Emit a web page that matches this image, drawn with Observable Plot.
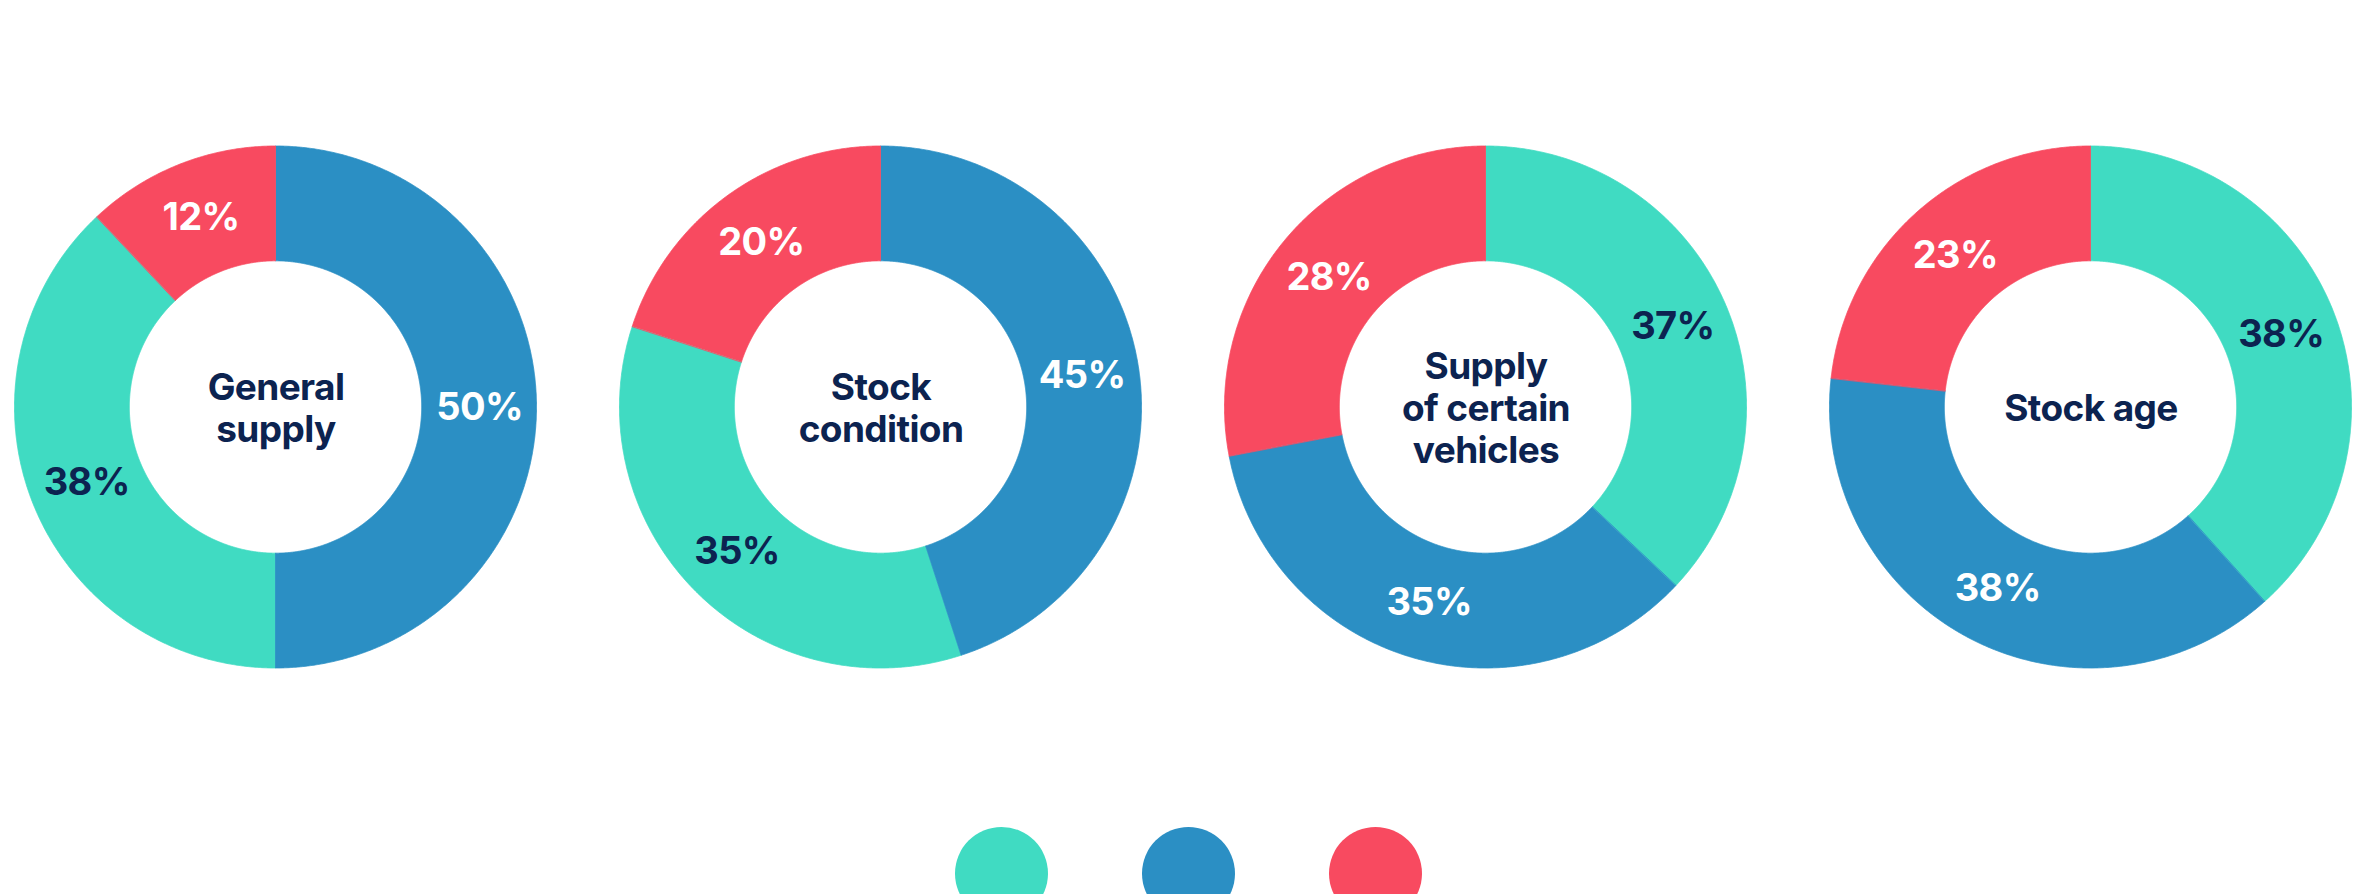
<!DOCTYPE html>
<html>
<head>
<meta charset="utf-8">
<script src="https://cdn.jsdelivr.net/npm/d3@7"></script>
<script src="https://cdn.jsdelivr.net/npm/@observablehq/plot@0.6"></script>
<style>
  html, body { margin: 0; padding: 0; background: #ffffff; }
  body { width: 2356px; height: 894px; overflow: hidden; font-family: Inter, "Liberation Sans", sans-serif; }
  #chart svg text { letter-spacing: -0.6px; }
  #legend { display: flex; justify-content: center; gap: 94px; padding-left: 20px; margin-top: 13px; }
  #legend .item { display: flex; flex-direction: column; align-items: center; }
  #legend .swatch { width: 93px; height: 93px; border-radius: 50%; }
</style>
</head>
<body>
<div id="chart"></div>
<div id="legend"></div>
<script>
// ---- data ----
const charts = ["General supply", "Stock condition", "Supply of certain vehicles", "Stock age"];
const chartTitles = ["General\nsupply", "Stock\ncondition", "Supply\nof certain\nvehicles", "Stock age"];
const groups = ["A", "B", "C"];
const groupA = [38, 35, 37, 38];   // teal
const groupB = [50, 45, 35, 38];   // blue
const groupC = [12, 20, 28, 23];   // red

// ---- style / layout ----
const colors = ["#40dbc2", "#2b8fc4", "#f84a60"];
const navy = "#0c2350";
const W = 2356, H = 814;
const R = 261;            // outer radius, px
const innerRatio = 0.56;  // inner / outer
const step = 605;         // facet step, px
const firstCenter = 275;
const fontFamily = "Inter, 'Liberation Sans', sans-serif";

const series = [groupA, groupB, groupC];
const rows = [];
charts.forEach((c, i) => groups.forEach((g, j) => rows.push({chart: c, group: g, value: series[j][i]})));

const pie = d3.pie().value(d => d.value); // default: descending, clockwise from top
const arcPts = [];
const labels = [];
const titles = charts.map((c, i) => ({chart: c, title: chartTitles[i]}));
for (const c of charts) {
  const slices = pie(rows.filter(r => r.chart === c));
  for (const s of slices) {
    const n = Math.max(2, Math.ceil((s.endAngle - s.startAngle) / (Math.PI / 720)));
    for (let k = 0; k <= n; k++) {
      const t = s.startAngle + (s.endAngle - s.startAngle) * k / n;
      arcPts.push({
        chart: c, group: s.data.group, key: c + "|" + s.data.group,
        xo: Math.sin(t), yo: Math.cos(t),
        xi: innerRatio * Math.sin(t), yi: innerRatio * Math.cos(t)
      });
    }
    const m = (s.startAngle + s.endAngle) / 2, rm = (1 + innerRatio) / 2;
    labels.push({chart: c, group: s.data.group, x: rm * Math.sin(m), y: rm * Math.cos(m), text: s.data.value + "%"});
  }
}

const xHalf = step / 2 / R, yHalf = H / 2 / R;

const plot = Plot.plot({
  width: W, height: H,
  marginTop: 0, marginBottom: 0, marginLeft: 0, marginRight: 0,
  style: {fontFamily, background: "white"},
  fx: {domain: charts, range: [firstCenter - step / 2, firstCenter - step / 2 + charts.length * step], padding: 0, axis: null, label: null},
  x: {domain: [-xHalf, xHalf], axis: null},
  y: {domain: [-yHalf, yHalf], axis: null},
  color: {domain: groups, range: colors},
  marks: [
    Plot.area(arcPts, {fx: "chart", x1: "xo", y1: "yo", x2: "xi", y2: "yi", z: "key", fill: "group", stroke: "group", strokeWidth: 0.8, curve: "linear"}),
    Plot.text(labels, {filter: d => d.group === "A", fx: "chart", x: "x", y: "y", text: "text", fill: navy, fontSize: 38, fontWeight: 700}),
    Plot.text(labels, {filter: d => d.group !== "A", fx: "chart", x: "x", y: "y", text: "text", fill: "white", fontSize: 38, fontWeight: 700}),
    Plot.text(titles, {fx: "chart", x: () => 0, y: () => 0, text: "title", fill: navy, fontSize: 37, fontWeight: 700, lineHeight: 1.13})
  ]
});
document.getElementById("chart").appendChild(plot);

const color = plot.scale("color");
const legend = document.getElementById("legend");
color.domain.forEach((g, i) => {
  const item = document.createElement("div");
  item.className = "item";
  const sw = document.createElement("div");
  sw.className = "swatch";
  sw.style.background = color.range[i];
  item.appendChild(sw);
  legend.appendChild(item);
});
</script>
</body>
</html>
